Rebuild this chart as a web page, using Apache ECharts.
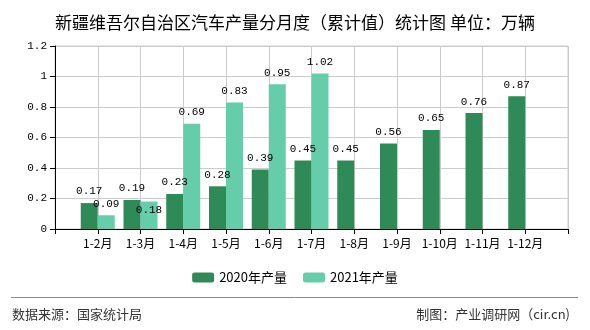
<!DOCTYPE html>
<html><head><meta charset="utf-8">
<script src="https://cdn.jsdelivr.net/npm/echarts@6/dist/echarts.min.js"></script>
<style>html,body{margin:0;padding:0;background:#fff}#c{width:590px;height:330px}</style>
</head><body><div id="c"></div>
<script>
const months = ['1-2月','1-3月','1-4月','1-5月','1-6月','1-7月','1-8月','1-9月','1-10月','1-11月','1-12月'];
const prod2020 = [0.17,0.19,0.23,0.28,0.39,0.45,0.45,0.56,0.65,0.76,0.87];
const prod2021 = [0.09,0.18,0.69,0.83,0.95,1.02];
const seriesNames = ['2020年产量','2021年产量'];
const yTicks = {min:0, max:1.2, interval:0.2};

const cats = [''].concat(months, ['']);
function pad(arr){ const a=[null].concat(arr); while(a.length<cats.length) a.push(null); return a; }
// 2021 label for 1-3月 sits inside the bar in the reference (avoids overlap)
const data2021 = pad(prod2021).map((v,i)=> i===2 ? {value:v, label:{position:'insideTop', distance:3}} : v);

const chart = echarts.init(document.getElementById('c'));
const labelStyle = {show:true, position:'top', distance:6, fontFamily:'Liberation Mono', fontSize:11, color:'#000'};
chart.setOption({
  animation:false,
  title:{text:'新疆维吾尔自治区汽车产量分月度（累计值）统计图 单位：万辆', left:'center', top:9,
    textStyle:{fontFamily:'Noto Sans CJK SC', fontSize:17, fontWeight:'normal', color:'#000'}},
  grid:{left:55, right:22, top:46, bottom:101, show:true, borderColor:'#ccc', borderWidth:1},
  legend:{bottom:41, left:'center', itemWidth:22, itemHeight:10, itemGap:16,
    textStyle:{fontFamily:'Noto Sans CJK SC', fontSize:13, color:'#000'}, data:seriesNames},
  xAxis:{type:'category', data:cats, boundaryGap:false,
    axisLine:{lineStyle:{color:'#000'}},
    axisTick:{interval:0, length:5, lineStyle:{color:'#000'}},
    axisLabel:{interval:0, margin:8, fontFamily:'Noto Sans CJK SC', fontSize:12, color:'#000'},
    splitLine:{show:true, interval:0, lineStyle:{color:'#ccc'}}},
  yAxis:{type:'value', min:yTicks.min, max:yTicks.max, interval:yTicks.interval,
    axisLine:{show:true, lineStyle:{color:'#000'}},
    axisTick:{show:true, length:5, lineStyle:{color:'#000'}},
    axisLabel:{margin:8, fontFamily:'Liberation Mono', fontSize:11, color:'#000'},
    splitLine:{lineStyle:{color:'#ccc'}}},
  series:[
    {name:seriesNames[0], type:'bar', data:pad(prod2020), barWidth:17, barGap:'0%', itemStyle:{color:'#2E8B57'}, label:labelStyle},
    {name:seriesNames[1], type:'bar', data:data2021, barWidth:17, barGap:'0%', itemStyle:{color:'#66CDAA'}, label:labelStyle}
  ],
  graphic:[
    {type:'line', shape:{x1:11, y1:297.5, x2:578, y2:297.5}, style:{stroke:'#888', lineWidth:1}},
    {type:'text', left:12, top:308, style:{text:'数据来源：国家统计局', fontFamily:'Noto Sans CJK SC', fontSize:13, fill:'#333'}},
    {type:'text', right:20, top:308, style:{text:'制图：产业调研网（cir.cn)', fontFamily:'Noto Sans CJK SC', fontSize:13, fill:'#333'}}
  ]
});
</script></body></html>
